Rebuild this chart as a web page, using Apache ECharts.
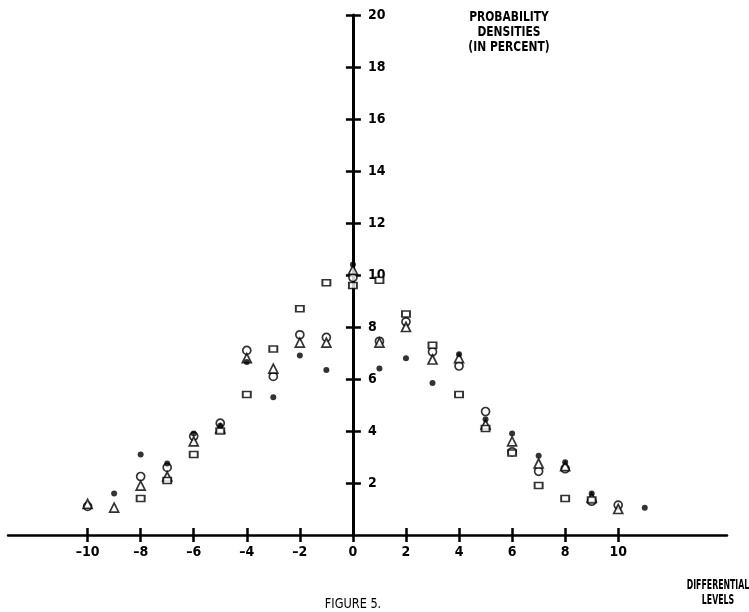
<!DOCTYPE html>
<html>
<head>
<meta charset="utf-8">
<script src="https://cdn.jsdelivr.net/npm/echarts@6/dist/echarts.min.js"></script>
<style>
html,body{margin:0;padding:0;background:#fff;}
#chart{width:749px;height:612px;}
</style>
</head>
<body>
<div id="chart"></div>
<script>
// Differential levels (x)
var levels = [-10, -9, -8, -7, -6, -5, -4, -3, -2, -1, 0, 1, 2, 3, 4, 5, 6, 7, 8, 9, 10, 11];
// Probability densities (percent), one list per marker type
var openCircle = [1.1, null, 2.25, 2.6, 3.8, 4.3, 7.1, 6.1, 7.7, 7.6, 9.9, 7.45, 8.2, 7.05, 6.5, 4.75, 3.2, 2.45, 2.55, 1.3, 1.15, null];
var openTriangle = [1.2, 1.05, 1.9, 2.25, 3.6, 4.1, 6.8, 6.4, 7.4, 7.4, 10.2, 7.4, 8.0, 6.75, 6.8, 4.25, 3.6, 2.75, 2.65, 1.45, 1.0, null];
var openSquare = [null, null, 1.4, 2.1, 3.1, 4.0, 5.4, 7.15, 8.7, 9.7, 9.6, 9.8, 8.5, 7.3, 5.4, 4.1, 3.15, 1.9, 1.4, 1.35, null, null];
var filledDot = [null, 1.6, 3.1, 2.75, 3.9, 4.2, 6.65, 5.3, 6.9, 6.35, 10.4, 6.4, 6.8, 5.85, 6.95, 4.45, 3.9, 3.05, 2.8, 1.6, null, 1.05];
// Tick labels
var xTicks = [-10, -8, -6, -4, -2, 0, 2, 4, 6, 8, 10];
var yTicks = [2, 4, 6, 8, 10, 12, 14, 16, 18, 20];

function pairs(vals) {
  var out = [];
  for (var i = 0; i < levels.length; i++) {
    if (vals[i] !== null) out.push([levels[i], vals[i]]);
  }
  return out;
}

var FONT = "'DejaVu Sans Condensed', 'DejaVu Sans', sans-serif";
var GRID_LEFT = 8;
var chart = echarts.init(document.getElementById('chart'), null, {renderer: 'canvas'});

var openStyle = {color: '#fff', borderColor: '#000', borderWidth: 1.7};

function yAxes(offset) {
  return [{
    type: 'value', min: 0, max: 20, position: 'left', offset: offset,
    splitLine: {show: false},
    axisLine: {show: true, onZero: false, lineStyle: {color: '#000', width: 3}},
    axisTick: {show: true, length: 7, customValues: yTicks, lineStyle: {color: '#000', width: 2.5}},
    axisLabel: {show: true, inside: true, customValues: yTicks, margin: 15, color: '#000',
      fontFamily: FONT, fontWeight: 'bold', fontSize: 14}
  }, {
    type: 'value', min: 0, max: 20, position: 'left', offset: offset,
    splitLine: {show: false},
    axisLine: {show: false, onZero: false},
    axisTick: {show: true, inside: true, length: 8, customValues: yTicks, lineStyle: {color: '#000', width: 2.5}},
    axisLabel: {show: false}
  }];
}

chart.setOption({
  animation: false,
  backgroundColor: '#fff',
  grid: {left: GRID_LEFT, right: 22, top: 15, bottom: 77, containLabel: false},
  xAxis: [{
    type: 'value', min: -13, max: 14.1, position: 'bottom',
    splitLine: {show: false},
    axisLine: {show: true, onZero: true, lineStyle: {color: '#000', width: 2.5}},
    axisTick: {show: true, length: 7, customValues: xTicks, lineStyle: {color: '#000', width: 2.5}},
    axisLabel: {show: true, customValues: xTicks, margin: 10, color: '#000',
      fontFamily: FONT, fontWeight: 'bold', fontSize: 14,
      formatter: function (v) { return v < 0 ? '\u2013' + Math.abs(v) : String(v); }}
  }, {
    type: 'value', min: -13, max: 14.1, position: 'bottom',
    splitLine: {show: false},
    axisLine: {show: false, onZero: true},
    axisTick: {show: true, inside: true, length: 7, customValues: xTicks, lineStyle: {color: '#000', width: 2.5}},
    axisLabel: {show: false}
  }],
  yAxis: yAxes(0),
  series: [
    {name: 'circle', type: 'scatter', symbol: 'circle', symbolSize: 8, itemStyle: openStyle, data: pairs(openCircle)},
    {name: 'triangle', type: 'scatter', symbol: 'triangle', symbolSize: 9, itemStyle: openStyle, data: pairs(openTriangle)},
    {name: 'square', type: 'scatter', symbol: 'rect', symbolSize: [8, 6], itemStyle: openStyle, data: pairs(openSquare)},
    {name: 'dot', type: 'scatter', symbol: 'circle', symbolSize: 6, itemStyle: {color: '#000'}, data: pairs(filledDot)}
  ],
  graphic: [
    {type: 'text', x: 509, y: 10, scaleX: 0.85, style: {text: 'PROBABILITY\nDENSITIES\n(IN PERCENT)', align: 'center', verticalAlign: 'top', lineHeight: 15, fill: '#000', font: '600 14px ' + FONT}},
    {type: 'text', x: 718, y: 578, scaleX: 0.62, style: {text: 'DIFFERENTIAL\nLEVELS', align: 'center', verticalAlign: 'top', lineHeight: 15, fill: '#000', font: '600 14px ' + FONT}},
    {type: 'text', x: 353, y: 597, scaleX: 0.9, style: {text: 'FIGURE 5.', align: 'center', verticalAlign: 'top', fill: '#000', font: '14px ' + FONT}}
  ]
});

// Move the vertical axis onto x = 0, using the x scale of the library
var zeroX = chart.convertToPixel({xAxisIndex: 0}, 0);
chart.setOption({yAxis: yAxes(-(zeroX - GRID_LEFT))});
</script>
</body>
</html>
